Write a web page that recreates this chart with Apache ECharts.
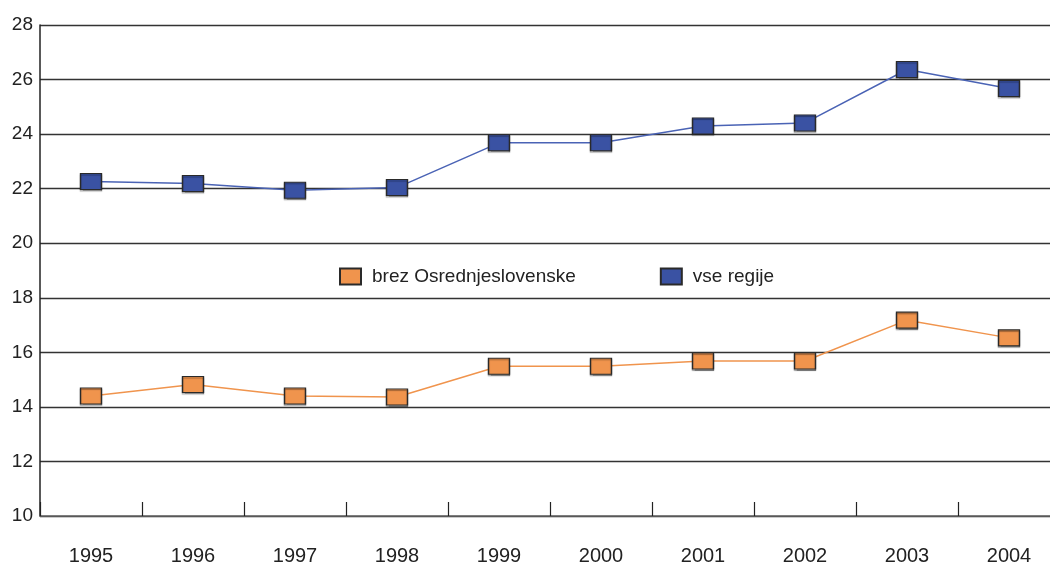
<!DOCTYPE html>
<html>
<head>
<meta charset="utf-8">
<script src="https://cdn.jsdelivr.net/npm/echarts@6/dist/echarts.min.js"></script>
<style>
html,body{margin:0;padding:0;background:#fff;overflow:hidden;}
#chart{width:1060px;height:566px;}
</style>
</head>
<body>
<div id="chart"></div>
<script>
const years = ['1995','1996','1997','1998','1999','2000','2001','2002','2003','2004'];
const brezOsrednjeslovenske = [14.40, 14.82, 14.40, 14.36, 15.49, 15.49, 15.68, 15.68, 17.18, 16.53];
const vseRegije = [22.26, 22.19, 21.94, 22.04, 23.68, 23.68, 24.30, 24.41, 26.37, 25.67];
const seriesNames = ['brez Osrednjeslovenske', 'vse regije'];

const chart = echarts.init(document.getElementById('chart'), null, {renderer: 'canvas'});
const font = 'Liberation Sans, Arial, Helvetica, sans-serif';
chart.setOption({
  animation: false,
  backgroundColor: '#ffffff',
  textStyle: {fontFamily: font},
  grid: {left: 40, right: 0, top: 25, bottom: 50, containLabel: false},
  legend: {
    data: seriesNames,
    left: 334,
    top: 262,
    icon: 'rect',
    itemWidth: 21,
    itemHeight: 16,
    itemGap: 84,
    textStyle: {fontSize: 19, color: '#222', fontFamily: font, padding: [0, 0, 0, 6]}
  },
  xAxis: {
    type: 'category',
    data: years,
    boundaryGap: true,
    axisLine: {show: true, lineStyle: {color: '#666', width: 1.5}},
    axisTick: {show: true, inside: true, length: 14, interval: 0, lineStyle: {color: '#222', width: 1.2}},
    axisLabel: {interval: 0, margin: 30, fontSize: 20, color: '#222', fontFamily: font},
    splitLine: {show: false}
  },
  yAxis: {
    type: 'value',
    min: 10,
    max: 28,
    interval: 2,
    axisLine: {show: true, lineStyle: {color: '#222', width: 1.5}},
    axisTick: {show: false},
    axisLabel: {margin: 7, fontSize: 19, color: '#222', fontFamily: font},
    splitLine: {show: true, lineStyle: {color: '#333', width: 1.3}}
  },
  series: [
    {
      name: seriesNames[0],
      type: 'line',
      data: brezOsrednjeslovenske,
      symbol: 'rect',
      symbolSize: [21, 16],
      lineStyle: {color: '#f0944d', width: 1.5},
      itemStyle: {color: '#f0944d', borderColor: '#2a2a2a', borderWidth: 1.2,
        shadowColor: 'rgba(0,0,0,0.35)', shadowOffsetY: 1.5, shadowBlur: 1}
    },
    {
      name: seriesNames[1],
      type: 'line',
      data: vseRegije,
      symbol: 'rect',
      symbolSize: [21, 16],
      lineStyle: {color: '#4a63b5', width: 1.5},
      itemStyle: {color: '#3a52a3', borderColor: '#2a2a2a', borderWidth: 1.2,
        shadowColor: 'rgba(0,0,0,0.35)', shadowOffsetY: 1.5, shadowBlur: 1}
    }
  ]
});
</script>
</body>
</html>
